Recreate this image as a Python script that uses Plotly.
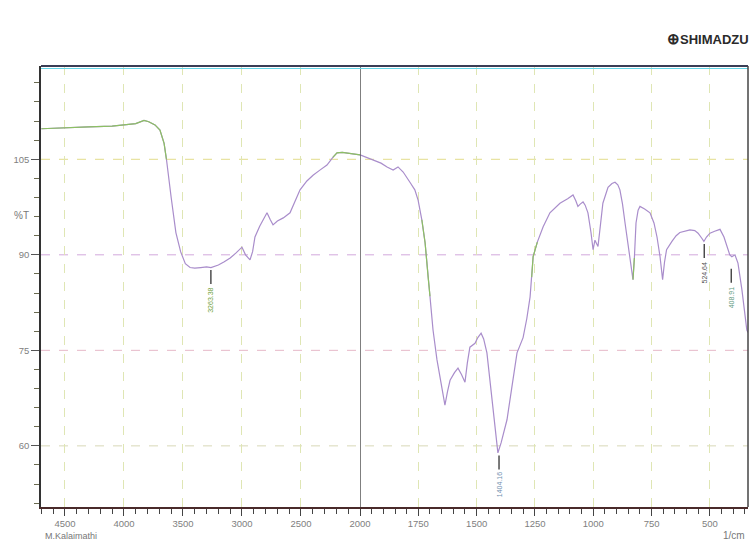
import plotly.graph_objects as go

# ---------------- data ----------------
wavenumber = [4700, 4600, 4500, 4300, 4100, 4000, 3900, 3830, 3790, 3737, 3695, 3660, 3640,
              3600, 3560, 3520, 3480, 3440, 3400, 3350, 3300, 3263, 3200, 3150, 3100, 3050,
              3000, 2970, 2932, 2910, 2890, 2850, 2800, 2788, 2760, 2737, 2700, 2650, 2593,
              2550, 2508, 2450, 2398, 2340, 2280, 2230, 2195, 2150, 2100, 2050, 2000,
              1970, 1944, 1910, 1884, 1858, 1837, 1815, 1786, 1765, 1751, 1735, 1721, 1708,
              1700, 1687, 1670, 1657, 1645, 1636, 1625, 1614, 1595, 1580, 1565, 1550, 1540,
              1529, 1507, 1495, 1481, 1470, 1456, 1440, 1425, 1409, 1395, 1370, 1350, 1327,
              1301, 1285, 1271, 1264, 1258, 1240, 1215, 1186, 1160, 1143, 1110, 1087, 1075,
              1066, 1055, 1044, 1035, 1023, 1010, 1001, 993, 980, 970, 959, 937, 920, 907,
              895, 886, 875, 864, 853, 843, 830, 824, 817, 808, 800, 780, 757, 740, 727,
              714, 703, 695, 686, 663, 645, 629, 586, 565, 551, 535, 526, 515, 500, 480,
              457, 440, 427, 415, 406, 393, 380, 363, 342, 337]
transmittance = [109.8, 109.9, 110.0, 110.1, 110.2, 110.4, 110.6, 111.1, 110.9, 110.4, 109.6, 107.5, 105.0,
                 99.0, 93.5, 90.5, 88.6, 88.0, 87.9, 88.0, 88.1, 88.0, 88.4, 88.9, 89.5, 90.3,
                 91.2, 90.0, 89.2, 90.5, 92.8, 94.5, 96.4, 96.6, 95.5, 94.7, 95.3, 95.8, 96.6,
                 98.5, 100.2, 101.6, 102.5, 103.3, 104.1, 105.3, 106.0, 106.1, 106.0, 105.9, 105.7,
                 105.3, 104.9, 104.4, 103.8, 103.3, 103.8, 103.0, 101.4, 100.2, 98.6, 95.5, 91.9, 86.5,
                 83.5, 78.2, 73.5, 70.8, 67.8, 66.4, 68.5, 70.3, 71.5, 72.2, 71.2, 70.0, 73.0,
                 75.5, 76.1, 77.0, 77.7, 76.8, 74.6, 69.0, 63.5, 58.9, 60.5, 64.1, 69.0, 74.6,
                 77.0, 80.0, 83.4, 86.5, 89.7, 92.0, 94.4, 96.6, 97.5, 98.1, 98.8, 99.4, 98.5,
                 97.6, 98.0, 98.3, 97.8, 96.6, 93.5, 90.8, 92.3, 91.3, 94.5, 98.1, 100.6, 101.2, 101.4,
                 101.0, 100.2, 98.0, 95.0, 92.0, 89.7, 86.1, 89.5, 95.0, 97.0, 97.6, 97.2, 96.6, 95.0, 92.8,
                 89.7, 86.1, 88.8, 90.8, 92.1, 93.0, 93.5, 93.9, 93.8, 93.4, 92.6, 92.1, 92.8, 93.4, 93.7,
                 94.0, 92.8, 91.3, 90.0, 89.7, 90.0, 88.7, 84.5, 78.2, 77.8]

peak_wn = [3263.38, 1404.16, 524.64, 408.91]
peak_T = [88.0, 58.9, 92.1, 88.2]
peak_colors = ["#6f9f3c", "#6f8fb0", "#555555", "#5f9a80"]

left_ticks = [4500, 4000, 3500, 3000, 2500]
right_ticks = [2000, 1750, 1500, 1250, 1000, 750, 500]
y_ticks = [60, 75, 90, 105]

# green-looking stretches of the trace (style)
green_ranges = [(4700, 3640), (2230, 1990), (1735, 1700), (1264, 1240), (835, 824)]

SPLIT = 2000
X_LEFT_RANGE = [4703, SPLIT]
X_RIGHT_RANGE = [SPLIT, 337]
Y_RANGE = [50.4, 119.65]
DOM_SPLIT = (360 - 41) / 707

PURPLE = "#a98dcb"
GREEN = "#8cc063"

fig = go.Figure()


def add_segment(xs, ys, color, width=1.2):
    lx = [x for x in xs if x >= SPLIT]
    ly = [y for x, y in zip(xs, ys) if x >= SPLIT]
    rx = [x for x in xs if x <= SPLIT]
    ry = [y for x, y in zip(xs, ys) if x <= SPLIT]
    if len(lx) > 1:
        fig.add_trace(go.Scatter(x=lx, y=ly, mode="lines", xaxis="x", yaxis="y",
                                 line=dict(color=color, width=width), hoverinfo="skip"))
    if len(rx) > 1:
        fig.add_trace(go.Scatter(x=rx, y=ry, mode="lines", xaxis="x2", yaxis="y",
                                 line=dict(color=color, width=width), hoverinfo="skip"))


add_segment(wavenumber, transmittance, PURPLE)
for hi, lo in green_ranges:
    xs = [x for x in wavenumber if lo <= x <= hi]
    ys = [y for x, y in zip(wavenumber, transmittance) if lo <= x <= hi]
    add_segment(xs, ys, GREEN)

shapes = []
# horizontal dashed grid lines
hcolors = {60: "#d8d8b8", 75: "#e6b8c8", 90: "#d2a8dc", 105: "#e2dc8a"}
for v in y_ticks:
    shapes.append(dict(type="line", xref="paper", yref="y", x0=0, x1=1, y0=v, y1=v,
                       line=dict(color=hcolors[v], width=1, dash="dash"), layer="below"))
# solid 2000 divider
shapes.append(dict(type="line", xref="x2", yref="paper", x0=SPLIT, x1=SPLIT, y0=0, y1=1,
                   line=dict(color="#555555", width=1.5)))
# frame top/right
shapes.append(dict(type="line", xref="paper", yref="paper", x0=0, x1=1, y0=1, y1=1,
                   line=dict(color="#3a3d55", width=2)))
shapes.append(dict(type="line", xref="paper", yref="paper", x0=0, x1=1, y0=1 - 2.5 / 441, y1=1 - 2.5 / 441,
                   line=dict(color="#66d6e8", width=1)))
shapes.append(dict(type="line", xref="paper", yref="paper", x0=1, x1=1, y0=0, y1=1,
                   line=dict(color="#444444", width=1.5)))

annotations = []
# peak markers
for wn, t, c in zip(peak_wn, peak_T, peak_colors):
    xr = "x" if wn >= SPLIT else "x2"
    shapes.append(dict(type="line", xref=xr, yref="y", x0=wn, x1=wn, y0=t - 0.4, y1=t - 2.6,
                       line=dict(color="#222222", width=1.2)))
    annotations.append(dict(x=wn, y=t - 2.8, xref=xr, yref="y", text=f"{wn:.2f}",
                            textangle=-90, showarrow=False, xanchor="center", yanchor="top",
                            font=dict(size=7, color=c, family="Liberation Sans")))

annotations += [
    dict(x=(12 - 41) / 707, y=(507 - 208) / 441, xref="paper", yref="paper", text="%T",
         showarrow=False, font=dict(size=10, color="#777777", family="Liberation Sans")),
    dict(x=(43 - 41) / 707, y=(507 - 536) / 441, xref="paper", yref="paper", text="M.Kalaimathi",
         showarrow=False, xanchor="left", yanchor="middle",
         font=dict(size=9, color="#777777", family="Liberation Sans")),
    dict(x=(747 - 41) / 707, y=(507 - 535) / 441, xref="paper", yref="paper", text="1/cm",
         showarrow=False, xanchor="right", yanchor="middle",
         font=dict(size=10, color="#777777", family="Liberation Sans")),
    dict(x=(751 - 41) / 707, y=(507 - 39) / 441, xref="paper", yref="paper",
         text="<b><span style='font-size:15px'>⊕</span>SHIMADZU</b>", showarrow=False,
         xanchor="right", yanchor="middle",
         font=dict(size=13, color="#2a2a2a", family="Liberation Sans")),
]

tickfont = dict(size=9.5, color="#808080", family="Liberation Sans")
common_x = dict(showline=True, linecolor="#4a2a2a", linewidth=1.5, ticks="outside", ticklen=7,
                tickcolor="#444444", tickwidth=1, tickfont=tickfont, showgrid=True,
                gridcolor="#dfe6b4", griddash="dash", gridwidth=1, zeroline=False,
                tickmode="array", anchor="y", ticklabelstandoff=0)

fig.update_layout(
    width=752, height=544,
    margin=dict(l=41, r=4, t=66, b=37),
    paper_bgcolor="white", plot_bgcolor="white",
    showlegend=False,
    xaxis=dict(domain=[0, DOM_SPLIT], range=X_LEFT_RANGE, tickvals=left_ticks,
               minor=dict(tick0=0, dtick=100, ticks="outside", ticklen=5, tickcolor="#444444",
                          showgrid=False),
               **common_x),
    xaxis2=dict(domain=[DOM_SPLIT, 1], range=X_RIGHT_RANGE, tickvals=right_ticks,
                minor=dict(tick0=0, dtick=50, ticks="outside", ticklen=5, tickcolor="#444444",
                           showgrid=False),
                **common_x),
    yaxis=dict(range=Y_RANGE, tickmode="array", tickvals=y_ticks, ticks="outside", ticklen=8,
               tickcolor="#555555", tickfont=tickfont, showline=True, linecolor="#333333",
               linewidth=1.5, showgrid=False, zeroline=False, anchor="x",
               minor=dict(tick0=0, dtick=3, ticks="outside", ticklen=5, tickcolor="#6a6a50",
                          showgrid=False)),
    shapes=shapes,
    annotations=annotations,
)

fig.write_html("out.html")
